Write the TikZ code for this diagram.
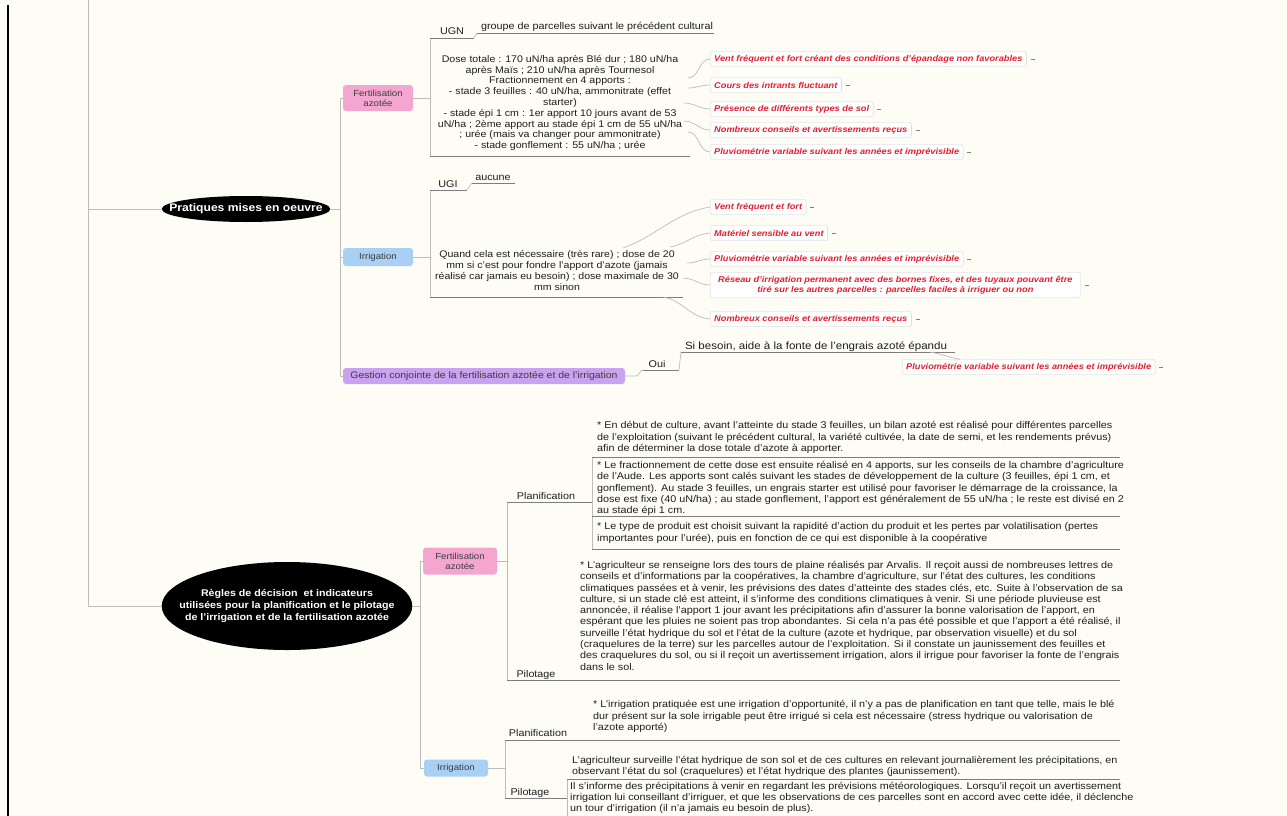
\documentclass[tikz,border=0pt]{standalone}
\usepackage{fontspec}
\setmainfont{Liberation Sans}[FakeStretch=1.1]
\usetikzlibrary{shapes.geometric,calc}
\definecolor{bgc}{RGB}{253,253,246}
\definecolor{connc}{RGB}{188,188,188}
\definecolor{ulc}{RGB}{125,125,125}
\definecolor{txc}{RGB}{30,30,30}
\definecolor{redc}{RGB}{226,32,48}
\definecolor{pinkc}{RGB}{244,166,208}
\definecolor{bluec}{RGB}{168,208,245}
\definecolor{purc}{RGB}{201,162,240}
\definecolor{rbord}{RGB}{208,208,208}
\definecolor{boxtx}{RGB}{60,60,60}
\tikzset{
  conn/.style={draw=connc, line width=0.7pt},
  ul/.style={draw=ulc, line width=0.8pt},
  tx/.style={inner sep=0pt, text=txc, font=\fontsize{9.8}{11.3}\selectfont},
  redbox/.style={draw=rbord, rounded corners=2pt, fill=white, text=redc,
    font=\fontsize{8.4}{9.8}\selectfont\bfseries\itshape, inner xsep=4pt,
    inner ysep=0pt, minimum height=15pt, anchor=west, align=center},
  minus/.style={draw=gray, line width=0.6pt},
  topic/.style={rounded corners=3pt, text=boxtx, font=\fontsize{8.8}{9.8}\selectfont,
    align=center, inner sep=0pt},
  mainell/.style={ellipse, fill=black, text=white, align=center},
}
\begin{document}
\begin{tikzpicture}[x=1pt,y=-1pt]
\fill[bgc] (0,0) rectangle (1287,816);
\useasboundingbox (0,0) rectangle (1287,816);
\begin{scope}
\clip (0,0) rectangle (1287,816);
\draw[black, line width=2pt] (8,5) -- (8,816);

% ---------- root spine ----------
\node[mainell, inner xsep=-17pt, inner ysep=0pt, minimum height=26pt,
  font=\fontsize{11}{12}\selectfont\bfseries] (prat) at (246,209) {Pratiques mises en oeuvre};
\node[mainell, inner xsep=-19pt, inner ysep=0pt, minimum height=88pt,
  font=\fontsize{9.7}{11.8}\selectfont\bfseries] (regl) at (287,606)
  {Règles de décision\ \ et indicateurs\\utilisées pour la planification et le pilotage\\de l'irrigation et de la fertilisation azotée};
\coordinate (s0top) at (88,0);
\coordinate (s0a) at (88,209);
\coordinate (s0b) at (88,606);
\draw[conn] (s0top) -- (s0b);
\draw[conn] (s0a) -- (prat.west);
\draw[conn] (s0b) -- (regl.west);

% ---------- Pratiques ----------
\node[topic, fill=pinkc, minimum width=70pt, minimum height=26pt] (fert1) at (378,98) {Fertilisation\\azotée};
\node[topic, fill=bluec, minimum width=70pt, minimum height=18pt] (irr1) at (378,257) {Irrigation};
\node[topic, fill=purc, minimum width=282pt, minimum height=16pt, font=\fontsize{9.5}{10}\selectfont] (gest) at (484,376) {Gestion conjointe de la fertilisation azotée et de l'irrigation};
\coordinate (s1top) at (340,98);
\coordinate (s1mid) at (340,209);
\coordinate (s1irr) at (340,257);
\coordinate (s1bot) at (340,376);
\draw[conn] (prat.east) -- (s1mid);
\draw[conn] (s1top) -- (s1bot);
\draw[conn] (s1top) -- (fert1.west);
\draw[conn] (s1irr) -- (irr1.west);
\draw[conn] (s1bot) -- (gest.west);

% Fertilisation (top)
\coordinate (f1a) at (430,98);
\coordinate (f1top) at (430,38);
\coordinate (f1bot) at (430,156);
\draw[conn] (fert1.east) -- (f1a);
\draw[conn] (f1top) -- (f1bot);
\node[tx, anchor=base] (ugn) at (452,35) {UGN};
\coordinate (ugnR) at (474,38);
\draw[ul] (f1top) -- (ugnR);
\node[tx, anchor=base] (grp) at (597,30) {groupe de parcelles suivant le précédent cultural};
\coordinate (grpL) at (477,33);
\coordinate (grpR) at (714,33);
\draw[conn] (ugnR) -- (grpL);
\draw[ul] (grpL) -- (grpR);
\node[tx, align=center, anchor=north, font=\fontsize{9.65}{10.8}\selectfont] (dose) at (560,55)
  {Dose totale : 170 uN/ha après Blé dur ; 180 uN/ha\\après Maïs ; 210 uN/ha après Tournesol\\Fractionnement en 4 apports :\\- stade 3 feuilles : 40 uN/ha, ammonitrate (effet\\starter)\\- stade épi 1 cm : 1er apport 10 jours avant de 53\\uN/ha ; 2ème apport au stade épi 1 cm de 55 uN/ha\\; urée (mais va changer pour ammonitrate)\\- stade gonflement : 55 uN/ha ; urée};
\coordinate (doseR) at (690,156);
\draw[ul] (f1bot) -- (doseR);

\node[redbox] (r1) at (710,59) {Vent fréquent et fort créant des conditions d'épandage non favorables};
\node[redbox] (r2) at (710,85) {Cours des intrants fluctuant};
\node[redbox] (r3) at (710,109) {Présence de différents types de sol};
\node[redbox] (r4) at (710,130) {Nombreux conseils et avertissements reçus};
\node[redbox] (r5) at (710,152) {Pluviométrie variable suivant les années et imprévisible};
\foreach \r in {r1,r2,r3,r4,r5} {\draw[minus] ([xshift=4pt]\r.east) -- ([xshift=8pt]\r.east);}
\coordinate (d1) at (688,78);
\coordinate (d2) at (688,88);
\coordinate (d3) at (684,103);
\coordinate (d4) at (684,121);
\coordinate (d5) at (688,132);
\draw[conn] (d1) to[out=0,in=180] (r1.west);
\draw[conn] (d2) to[out=0,in=180] (r2.west);
\draw[conn] (d3) to[out=0,in=180] (r3.west);
\draw[conn] (d4) to[out=0,in=180] (r4.west);
\draw[conn] (d5) to[out=0,in=180] (r5.west);

% Irrigation (top)
\coordinate (i1a) at (430,257);
\coordinate (i1top) at (430,190);
\coordinate (i1bot) at (430,297);
\draw[conn] (irr1.east) -- (i1a);
\draw[conn] (i1top) -- (i1bot);
\node[tx, anchor=base] (ugi) at (448,187) {UGI};
\coordinate (ugiR) at (467,190);
\draw[ul] (i1top) -- (ugiR);
\node[tx, anchor=base] (auc) at (493,180) {aucune};
\coordinate (aucL) at (472,183);
\coordinate (aucR) at (515,183);
\draw[conn] (ugiR) -- (aucL);
\draw[ul] (aucL) -- (aucR);
\node[tx, align=center, anchor=north, font=\fontsize{9.6}{11.2}\selectfont] (quand) at (557,250)
  {Quand cela est nécessaire (très rare) ; dose de 20\\mm si c'est pour fondre l'apport d'azote (jamais\\réalisé car jamais eu besoin) ; dose maximale de 30\\mm sinon};
\coordinate (quandR) at (683,297);
\draw[ul] (i1bot) -- (quandR);

\node[redbox] (q1) at (710,207) {Vent fréquent et fort};
\node[redbox] (q2) at (710,233) {Matériel sensible au vent};
\node[redbox] (q3) at (710,259) {Pluviométrie variable suivant les années et imprévisible};
\node[redbox, minimum height=25pt, inner xsep=8pt] (q4) at (710,285) {Réseau d'irrigation permanent avec des bornes fixes, et des tuyaux pouvant être\\tiré sur les autres parcelles : parcelles faciles à irriguer ou non};
\node[redbox] (q5) at (710,319) {Nombreux conseils et avertissements reçus};
\foreach \r in {q1,q2,q3,q4,q5} {\draw[minus] ([xshift=4pt]\r.east) -- ([xshift=8pt]\r.east);}
\coordinate (e1) at (623,248);
\coordinate (e2) at (670,247);
\coordinate (e3) at (687,263);
\coordinate (e4) at (683,278);
\coordinate (e5) at (663,297);
\draw[conn] (e1) to[out=20,in=190] (q1.west);
\draw[conn] (e2) to[out=10,in=185] (q2.west);
\draw[conn] (e3) to[out=0,in=180] (q3.west);
\draw[conn] (e4) to[out=0,in=180] (q4.west);
\draw[conn] (e5) to[out=-10,in=175] (q5.west);

% Gestion conjointe
\coordinate (gA) at (636,376);
\coordinate (ouiL) at (643,370);
\coordinate (ouiR) at (679,370);
\draw[conn] (gest.east) -- (gA) to[out=0,in=180] (ouiL);
\node[tx, anchor=base] (oui) at (657,367) {Oui};
\draw[ul] (ouiL) -- (ouiR);
\coordinate (sibL) at (681,352);
\coordinate (sibR) at (955,352);
\draw[conn] (ouiR) -- (sibL);
\node[tx, anchor=base, font=\fontsize{10.5}{12}\selectfont] (sib) at (816,349) {Si besoin, aide à la fonte de l'engrais azoté épandu};
\draw[ul] (sibL) -- (sibR);
\node[redbox] (g1) at (902,367) {Pluviométrie variable suivant les années et imprévisible};
\draw[minus] ([xshift=4pt]g1.east) -- ([xshift=8pt]g1.east);
\coordinate (sibC) at (930,352);
\draw[conn] (sibC) to[out=-10,in=170] ($(g1.north west)+(58,0)$);

% ---------- Règles ----------
\coordinate (s2a) at (420,606);
\coordinate (s2top) at (420,561);
\coordinate (s2bot) at (420,768);
\node[topic, fill=pinkc, minimum width=74pt, minimum height=27pt] (fert2) at (460,561) {Fertilisation\\azotée};
\node[topic, fill=bluec, minimum width=64pt, minimum height=17pt] (irr2) at (456,768) {Irrigation};
\draw[conn] (regl.east) -- (s2a);
\draw[conn] (s2top) -- (s2bot);
\draw[conn] (s2top) -- (fert2.west);
\draw[conn] (s2bot) -- (irr2.west);

% Fertilisation (bottom)
\coordinate (f2a) at (507,561);
\coordinate (f2top) at (507,502);
\coordinate (f2bot) at (507,680);
\draw[conn] (fert2.east) -- (f2a);
\draw[conn] (f2top) -- (f2bot);
\node[tx, anchor=base] (plan1) at (546,499) {Planification};
\coordinate (plan1R) at (592,502);
\draw[ul] (f2top) -- (plan1R);
\coordinate (pbTop) at (592,457);
\coordinate (pbMid) at (592,516);
\coordinate (pbBot) at (592,549);
\draw[conn] (pbTop) -- (pbBot);
\node[tx, align=left, anchor=north west, font=\fontsize{9.8}{11.6}\selectfont] (pa) at (597,421)
  {* En début de culture, avant l'atteinte du stade 3 feuilles, un bilan azoté est réalisé pour différentes parcelles\\de l'exploitation (suivant le précédent cultural, la variété cultivée, la date de semi, et les rendements prévus)\\afin de déterminer la dose totale d'azote à apporter.};
\draw[ul] (pbTop) -- (1120,457);
\node[tx, align=left, anchor=north west, font=\fontsize{9.8}{11.3}\selectfont] (pb) at (597,461)
  {* Le fractionnement de cette dose est ensuite réalisé en 4 apports, sur les conseils de la chambre d'agriculture\\de l'Aude. Les apports sont calés suivant les stades de développement de la culture (3 feuilles, épi 1 cm, et\\gonflement). Au stade 3 feuilles, un engrais starter est utilisé pour favoriser le démarrage de la croissance, la\\dose est fixe (40 uN/ha) ; au stade gonflement, l'apport est généralement de 55 uN/ha ; le reste est divisé en 2\\au stade épi 1 cm.};
\draw[ul] (pbMid) -- (1120,516);
\node[tx, align=left, anchor=north west, font=\fontsize{9.8}{11.6}\selectfont] (pc) at (597,522)
  {* Le type de produit est choisit suivant la rapidité d'action du produit et les pertes par volatilisation (pertes\\importantes pour l'urée), puis en fonction de ce qui est disponible à la coopérative};
\draw[ul] (pbBot) -- (1120,549);

\node[tx, anchor=base] (pil1) at (536,677) {Pilotage};
\coordinate (pil1R) at (576,680);
\draw[ul] (f2bot) -- (pil1R);
\node[tx, align=left, anchor=north west, font=\fontsize{9.8}{11.3}\selectfont] (pd) at (580,561)
  {* L'agriculteur se renseigne lors des tours de plaine réalisés par Arvalis. Il reçoit aussi de nombreuses lettres de\\conseils et d'informations par la coopératives, la chambre d'agriculture, sur l'état des cultures, les conditions\\climatiques passées et à venir, les prévisions des dates d'atteinte des stades clés, etc. Suite à l'observation de sa\\culture, si un stade clé est atteint, il s'informe des conditions climatiques à venir. Si une période pluvieuse est\\annoncée, il réalise l'apport 1 jour avant les précipitations afin d'assurer la bonne valorisation de l'apport, en\\espérant que les pluies ne soient pas trop abondantes. Si cela n'a pas été possible et que l'apport a été réalisé, il\\surveille l'état hydrique du sol et l'état de la culture (azote et hydrique, par observation visuelle) et du sol\\(craquelures de la terre) sur les parcelles autour de l'exploitation. Si il constate un jaunissement des feuilles et\\des craquelures du sol, ou si il reçoit un avertissement irrigation, alors il irrigue pour favoriser la fonte de l'engrais\\dans le sol.};
\draw[ul] (pil1R) -- (1120,680);

% Irrigation (bottom)
\coordinate (i2a) at (505,768);
\coordinate (i2top) at (505,740);
\coordinate (i2bot) at (505,798);
\draw[conn] (irr2.east) -- (i2a);
\draw[conn] (i2top) -- (i2bot);
\node[tx, anchor=base] (plan2) at (538,736) {Planification};
\coordinate (plan2R) at (567,740);
\draw[ul] (i2top) -- (plan2R);
\node[tx, align=left, anchor=north west, font=\fontsize{9.8}{11.6}\selectfont] (pe) at (593,700)
  {* L'irrigation pratiquée est une irrigation d'opportunité, il n'y a pas de planification en tant que telle, mais le blé\\dur présent sur la sole irrigable peut être irrigué si cela est nécessaire (stress hydrique ou valorisation de\\l'azote apporté)};
\draw[ul] (plan2R) -- (1120,740);

\node[tx, anchor=base] (pil2) at (530,795) {Pilotage};
\coordinate (pil2R) at (567,798);
\draw[ul] (i2bot) -- (pil2R);
\coordinate (ipTop) at (567,779);
\coordinate (ipBot) at (567,816);
\draw[conn] (ipTop) -- (ipBot);
\node[tx, align=left, anchor=north west, font=\fontsize{9.8}{11.2}\selectfont] (pf) at (572,756)
  {L'agriculteur surveille l'état hydrique de son sol et de ces cultures en relevant journalièrement les précipitations, en\\observant l'état du sol (craquelures) et l'état hydrique des plantes (jaunissement).};
\draw[ul] (ipTop) -- (1120,779);
\node[tx, align=left, anchor=north west, font=\fontsize{9.8}{10.9}\selectfont] (pg) at (570,782)
  {Il s'informe des précipitations à venir en regardant les prévisions météorologiques. Lorsqu'il reçoit un avertissement\\irrigation lui conseillant d'irriguer, et que les observations de ces parcelles sont en accord avec cette idée, il déclenche\\un tour d'irrigation (il n'a jamais eu besoin de plus).};
\end{scope}
\end{tikzpicture}
\end{document}
